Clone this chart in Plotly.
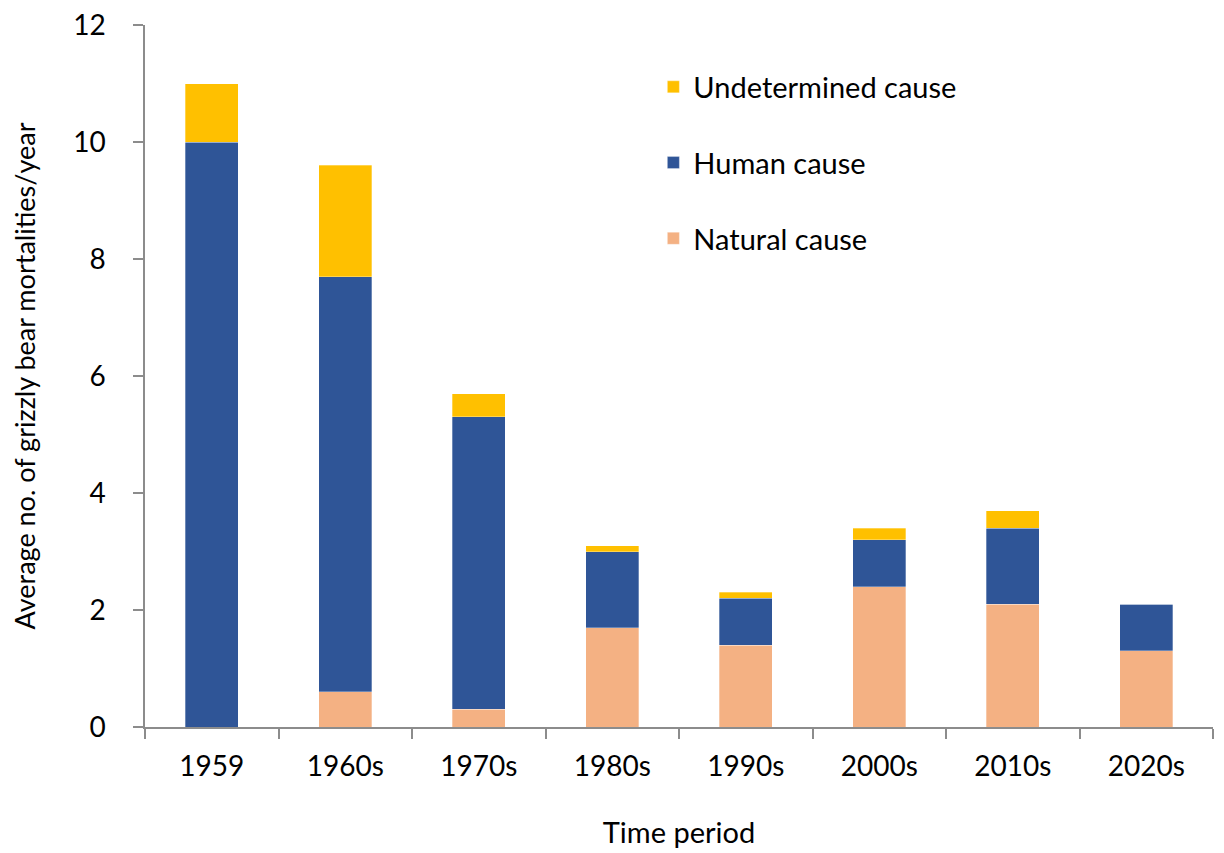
import plotly.graph_objects as go

periods = ["1959", "1960s", "1970s", "1980s", "1990s", "2000s", "2010s", "2020s"]
natural = [0.0, 0.6, 0.3, 1.7, 1.4, 2.4, 2.1, 1.3]
human = [10.0, 7.1, 5.0, 1.3, 0.8, 0.8, 1.3, 0.8]
undetermined = [1.0, 1.9, 0.4, 0.1, 0.1, 0.2, 0.3, 0.0]

font = "Lato, Calibri, sans-serif"
axis_grey = "#8c8c8c"

fig = go.Figure()
series = [
    ("Natural cause", natural, "#F4B183", 3),
    ("Human cause", human, "#2F5597", 2),
    ("Undetermined cause", undetermined, "#FFC000", 1),
]
for name, vals, col, rank in series:
    fig.add_trace(go.Bar(
        x=periods, y=vals, name=name, legendgroup=name, legendrank=rank,
        marker=dict(color=col, line=dict(color="rgba(255,255,255,0.5)", width=0.6)),
        width=0.4,
    ))

# page body has an 8px default margin, so offsets below account for it
fig.update_layout(
    barmode="stack",
    width=1224, height=853,
    margin=dict(l=137, r=19, t=17, b=134),
    plot_bgcolor="white", paper_bgcolor="white",
    font=dict(family=font, size=28, color="black"),
    showlegend=True,
    legend=dict(
        x=0.476, y=0.948, xanchor="left", yanchor="top",
        traceorder="grouped", tracegroupgap=35,
        font=dict(size=29), bgcolor="rgba(0,0,0,0)",
    ),
    xaxis=dict(
        title=dict(text="Time period", font=dict(size=29), standoff=41),
        showline=True, linecolor=axis_grey, linewidth=1.5,
        ticks="outside", tickson="boundaries", ticklen=10, tickcolor=axis_grey, tickwidth=1.5,
        tickfont=dict(size=28), ticklabelstandoff=14, automargin=False,
    ),
    yaxis=dict(
        title=dict(text="Average no. of grizzly bear mortalities/year", font=dict(size=27), standoff=30),
        range=[0, 12], dtick=2,
        showline=True, linecolor=axis_grey, linewidth=1.5,
        ticks="outside", ticklen=10, tickcolor=axis_grey, tickwidth=1.5,
        showgrid=False, zeroline=False, automargin=False,
        tickfont=dict(size=28), ticklabelstandoff=22, ticklabeloverflow="allow",
    ),
)

fig.write_html("out.html")
